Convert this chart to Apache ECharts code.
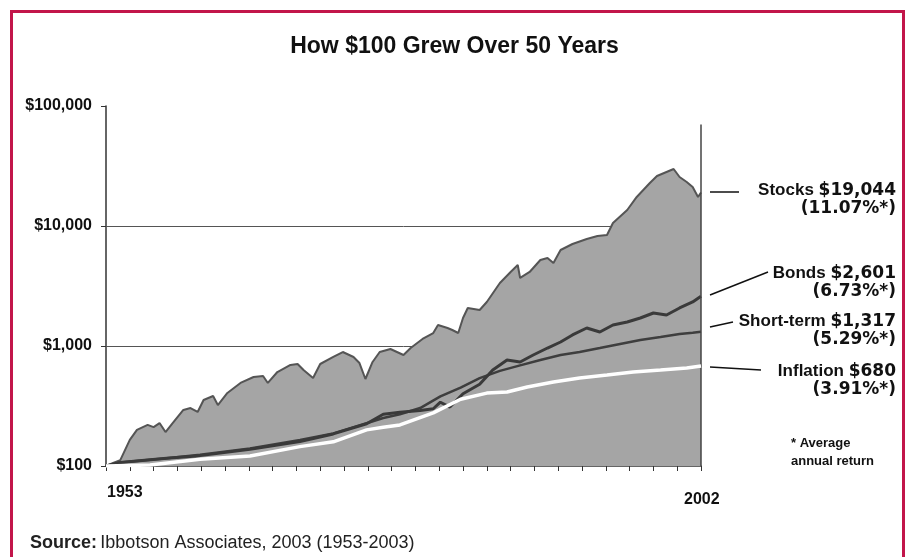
<!DOCTYPE html>
<html>
<head>
<meta charset="utf-8">
<script src="https://cdn.jsdelivr.net/npm/echarts@6/dist/echarts.min.js"></script>
<style>
  html, body { margin: 0; padding: 0; background: #fff; }
  #chart { width: 909px; height: 557px; }
</style>
</head>
<body>
<div id="chart"></div>
<script>
// values (growth of $100, log scale)
var stockYears = [1953.0, 1953.6, 1954.2, 1955.0, 1955.6, 1956.5, 1957.0, 1957.5, 1958.0, 1958.6,
  1959.5, 1960.1, 1960.7, 1961.2, 1962.0, 1962.4, 1963.2, 1964.3, 1965.4, 1966.2,
  1966.6, 1967.4, 1968.5, 1969.1, 1969.6, 1970.4, 1971.0, 1972.1, 1972.9, 1973.8,
  1974.3, 1974.8, 1975.4, 1976.0, 1976.9, 1978.0, 1978.6, 1979.6, 1980.5, 1980.9,
  1981.7, 1982.1, 1982.6, 1983.0, 1983.4, 1984.4, 1985.0, 1986.1, 1987.0, 1987.6,
  1987.8, 1988.6, 1989.5, 1990.1, 1990.6, 1991.2, 1992.2, 1993.4, 1994.3, 1995.1,
  1995.6, 1996.8, 1997.6, 1998.7, 1999.3, 2000.1, 2000.7, 2001.2, 2001.8, 2002.3,
  2002.75, 2003.0];
var stockValues = [100, 106, 112, 165, 200, 220, 211, 228, 192, 228,
  293, 304, 282, 355, 383, 322, 406, 492, 552, 562,
  492, 607, 695, 708, 631, 541, 708, 810, 891, 810,
  721, 531, 736, 891, 944, 841, 962, 1144, 1283, 1496,
  1413, 1359, 1283, 1711, 2075, 1995, 2328, 3350, 4140, 4732,
  3690, 4140, 5209, 5412, 4918, 6310, 7079, 7798, 8254, 8414,
  10593, 13594, 17458, 22803, 26102, 28184, 29854, 25613, 23263, 21135,
  17458, 19044];

var bondYears = [1953.0, 1954.2, 1958.1, 1960.9, 1965.1, 1969.3, 1972.1, 1974.9, 1976.3, 1977.7,
  1979.4, 1980.5, 1981.1, 1981.9, 1983.0, 1984.4, 1985.5, 1986.7, 1987.8, 1988.9,
  1990.1, 1991.2, 1992.2, 1993.4, 1994.5, 1995.6, 1996.8, 1997.9, 1999.0, 2000.1,
  2001.2, 2002.3, 2003.0];
var bondValues = [100, 107, 116, 122, 138, 160, 185, 225, 270, 280,
  290, 300, 340, 310, 400, 480, 631, 764, 736, 841,
  962, 1080, 1236, 1413, 1308, 1496, 1585, 1711, 1884, 1813,
  2075, 2328, 2601];

var shortYears = [1953.0, 1954.2, 1958.1, 1960.9, 1965.1, 1969.3, 1972.1, 1974.9, 1976.3, 1977.7,
  1979.4, 1981.1, 1982.8, 1984.4, 1986.1, 1987.8, 1989.5, 1991.2, 1992.8, 1994.5,
  1996.2, 1997.9, 1999.6, 2001.2, 2002.3, 2003.0];
var shortValues = [100, 107, 116, 124, 140, 165, 187, 227, 251, 270,
  304, 380, 450, 540, 620, 690, 764, 841, 891, 962,
  1040, 1122, 1188, 1260, 1290, 1317];

var inflationYears = [1953.0, 1956.7, 1960.9, 1965.1, 1969.3, 1972.1, 1974.9, 1976.3, 1977.7, 1980.5,
  1982.8, 1985.0, 1986.7, 1988.4, 1990.6, 1992.8, 1995.1, 1997.3, 1999.6, 2001.8,
  2003.0];
var inflationValues = [100, 102, 114, 121, 145, 159, 200, 210, 220, 277,
  360, 405, 414, 455, 501, 541, 574, 608, 631, 656,
  680];

var yTicks = [100, 1000, 10000, 100000];
var startYear = 1953;

function pairs(years, values) {
  return years.map(function (y, i) { return [y - startYear, values[i]]; });
}

var chart = echarts.init(document.getElementById('chart'));

var labelFont = 'Liberation Sans, Arial, sans-serif';
var heavyFont = 'DejaVu Sans, sans-serif';

function seriesLabel(name, amount, pct, y) {
  return [
    {
      type: 'text', right: 13, top: y - 10,
      style: {
        text: '{a|' + name + ' }{b|' + amount + '}',
        align: 'right',
        rich: {
          a: { fontFamily: labelFont, fontWeight: 'bold', fontSize: 17, fill: '#111' },
          b: { fontFamily: heavyFont, fontWeight: 'bold', fontSize: 17, fill: '#111' }
        }
      }
    },
    {
      type: 'text', right: 13, top: y + 8,
      style: { text: pct, fontFamily: heavyFont, fontWeight: 'bold', fontSize: 17, fill: '#111' }
    }
  ];
}

var graphics = [
  {
    type: 'rect', shape: { x: 11.5, y: 11.5, width: 892, height: 600 },
    style: { fill: 'none', stroke: '#c2154a', lineWidth: 3 }, z: 10
  },
  {
    type: 'text', left: 'center', top: 35,
    style: { text: 'How $100 Grew Over 50 Years', fontFamily: labelFont, fontWeight: 'bold', fontSize: 23, fill: '#111' }
  },
  { type: 'text', left: 107, top: 485, style: { text: '1953', fontFamily: labelFont, fontWeight: 'bold', fontSize: 16, fill: '#111' } },
  { type: 'text', left: 684, top: 492, style: { text: '2002', fontFamily: labelFont, fontWeight: 'bold', fontSize: 16, fill: '#111' } },
  {
    type: 'text', left: 30, top: 534,
    style: {
      text: '{b|Source:} {r|Ibbotson Associates, 2003 (1953-2003)}',
      rich: {
        b: { fontFamily: labelFont, fontWeight: 'bold', fontSize: 18, fill: '#222' },
        r: { fontFamily: labelFont, fontSize: 18, fill: '#222' }
      }
    }
  },
  { type: 'text', left: 791, top: 437, style: { text: '* Average', fontFamily: labelFont, fontWeight: 'bold', fontSize: 13, fill: '#111' } },
  { type: 'text', left: 791, top: 455, style: { text: 'annual return', fontFamily: labelFont, fontWeight: 'bold', fontSize: 13, fill: '#111' } },
  { type: 'line', shape: { x1: 710, y1: 192, x2: 739, y2: 192 }, style: { stroke: '#111', lineWidth: 1.5 } },
  { type: 'line', shape: { x1: 710, y1: 295, x2: 768, y2: 272 }, style: { stroke: '#111', lineWidth: 1.5 } },
  { type: 'line', shape: { x1: 710, y1: 327, x2: 733, y2: 322 }, style: { stroke: '#111', lineWidth: 1.5 } },
  { type: 'line', shape: { x1: 710, y1: 367, x2: 761, y2: 370 }, style: { stroke: '#111', lineWidth: 1.5 } }
]
  .concat(seriesLabel('Stocks', '$19,044', '(11.07%*)', 192))
  .concat(seriesLabel('Bonds', '$2,601', '(6.73%*)', 275))
  .concat(seriesLabel('Short-term', '$1,317', '(5.29%*)', 323))
  .concat(seriesLabel('Inflation', '$680', '(3.91%*)', 373));

chart.setOption({
  animation: false,
  backgroundColor: '#fff',
  grid: { left: 106, right: 208, top: 106, bottom: 91 },
  xAxis: {
    type: 'value', min: 0, max: 50, interval: 2,
    axisLine: { lineStyle: { color: '#333', width: 1.5 } },
    axisTick: { length: 5, lineStyle: { color: '#333' } },
    axisLabel: { show: false },
    splitLine: { show: false }
  },
  yAxis: {
    type: 'log', logBase: 10, min: 100, max: 100000,
    axisLine: { show: true, lineStyle: { color: '#333', width: 1.5 } },
    axisTick: { show: true, length: 5, lineStyle: { color: '#333' } },
    axisLabel: {
      margin: 14, fontFamily: labelFont, fontWeight: 'bold', fontSize: 16, color: '#111',
      formatter: function (v) { return '$' + Math.round(v).toLocaleString('en-US'); }
    },
    splitLine: { show: false }
  },
  graphic: graphics,
  series: [
    {
      name: 'grid', type: 'line', data: [[0, 100]], showSymbol: false, z: 1,
      lineStyle: { opacity: 0 },
      markLine: {
        z: 1, silent: true, symbol: 'none', label: { show: false },
        lineStyle: { color: '#555', width: 1, type: 'solid' },
        data: yTicks.slice(1, 3).map(function (v) { return { yAxis: v }; })
      }
    },
    {
      name: 'Stocks', type: 'line', data: pairs(stockYears, stockValues), z: 2,
      showSymbol: false, smooth: false,
      lineStyle: { color: '#555', width: 2 },
      areaStyle: { color: '#a5a5a5', opacity: 1, origin: 'start' },
      markLine: {
        silent: true, symbol: 'none', label: { show: false },
        lineStyle: { color: '#444', width: 1.5, type: 'solid' },
        data: [[{ coord: [50, 100] }, { coord: [50, 70000] }]]
      }
    },
    {
      name: 'Short-term', type: 'line', data: pairs(shortYears, shortValues), z: 3,
      showSymbol: false, lineStyle: { color: '#3e3e3e', width: 2.5 }
    },
    {
      name: 'Bonds', type: 'line', data: pairs(bondYears, bondValues), z: 4,
      showSymbol: false, lineStyle: { color: '#3a3a3a', width: 3 }
    },
    {
      name: 'Inflation', type: 'line', data: pairs(inflationYears, inflationValues), z: 5,
      showSymbol: false, lineStyle: { color: '#ffffff', width: 3.5 }
    }
  ]
});
</script>
</body>
</html>
